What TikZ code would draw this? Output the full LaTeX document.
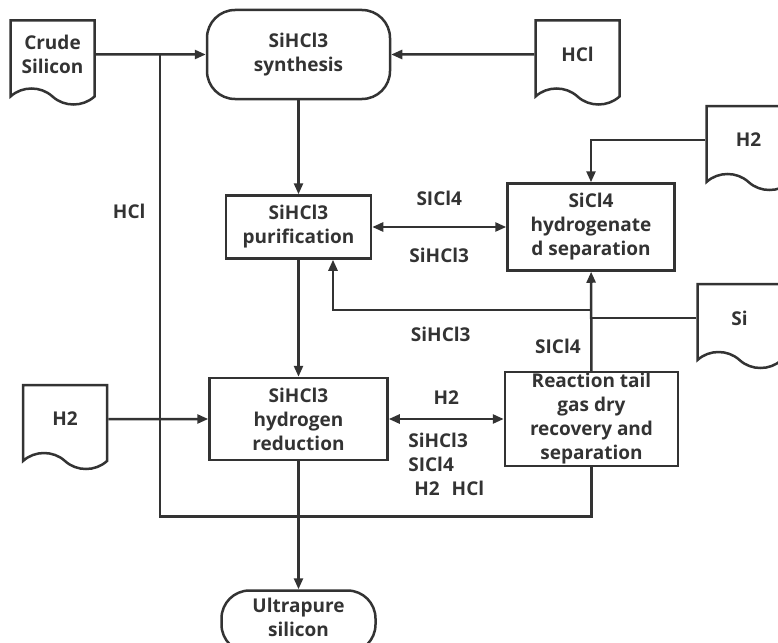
\documentclass[tikz,border=0pt]{standalone}
\usepackage{fontspec}
\setmainfont{Open Sans}
\usepackage{tikz}
\usetikzlibrary{positioning, arrows.meta, shapes.symbols}
\definecolor{ink}{HTML}{333333}
\tikzset{
  base/.style={draw=ink, line width=2.5pt, text=ink, align=center, inner sep=2pt,
    font=\fontsize{19}{24}\selectfont\bfseries},
  stepbox/.style={base, rectangle},
  term/.style={base, rectangle, rounded corners=28pt},
  doc/.style={base, tape, tape bend top=none, tape bend bottom=out and in,
    tape bend height=16pt, minimum width=84pt, minimum height=84pt},
  lbl/.style={text=ink, font=\fontsize{19}{24}\selectfont\bfseries, align=left},
}

\begin{document}
\begin{tikzpicture}[x=1pt, y=-1pt, node distance=100pt, >={Triangle[length=11pt,width=9pt]},
  color=ink, line width=2.5pt]
\useasboundingbox (0,0) rectangle (778,642);

\node[term, minimum width=183pt, minimum height=89pt] (synth) at (298.5,54.5) {SiHCl3\\synthesis};
\node[doc, left=110pt of synth] (crude) {Crude\\Silicon};
\node[doc, right=143pt of synth] (hcl) {HCl};
\node[stepbox, below=94pt of synth, minimum width=145pt, minimum height=63pt] (purif) {SiHCl3\\purification};
\node[stepbox, right=134pt of purif, minimum width=167pt, minimum height=87pt] (hydro) {SiCl4\\hydrogenate\\d separation};
\node[stepbox, below=117pt of purif, minimum width=178pt, minimum height=82pt] (reduc) {SiHCl3\\hydrogen\\reduction};
\node[doc, left=100pt of reduc] (h2left) {H2};
\node[stepbox, right=115pt of reduc, minimum width=173pt, minimum height=94pt, inner sep=0pt] (tail) {Reaction tail\\gas dry\\recovery and\\separation};
\node[term, below=128pt of reduc, minimum width=154pt, minimum height=62pt, text depth=8pt] (ultra) {Ultrapure\\silicon};
\node[doc] (h2top) at (748.5,140) {H2};
\node[doc] (si) at (739.5,318) {Si};

\coordinate (hcljoin) at (160,54.5);
\coordinate (tap) at (589.5,310);

\draw[->] (crude) -- (synth);
\draw[->] (hcl) -- (synth);
\draw[->] (synth) -- (purif);
\draw[->] (purif) -- (reduc);
\draw[->] (reduc) -- (ultra);
\draw[->] (h2left) -- (reduc);
\draw[<->] (purif) -- node[lbl, above=17pt] {SICl4} node[lbl, below=16pt] {SiHCl3} (hydro);
\draw[->] (h2top) -| (hydro);
\draw[->] (tail) -- node[lbl, pos=0.25, left=6pt] {SICl4} (hydro);
\draw (si.west) -- (si.west -| tail.north);
\draw[->] (tap) -| node[lbl, pos=0.29, below=12pt] {SiHCl3} ([xshift=34.5pt]purif.south);
\draw[<->] (reduc) -- node[lbl, above=10pt] {H2}
  node[lbl, below=9pt] {SiHCl3\\SICl4\\\hspace{6pt}H2\hspace{12pt}HCl} (tail);
\draw (tail.south) -- ++(0,49) -| node[lbl, pos=0.83, left=10pt] {HCl} (hcljoin);
\end{tikzpicture}
\end{document}
